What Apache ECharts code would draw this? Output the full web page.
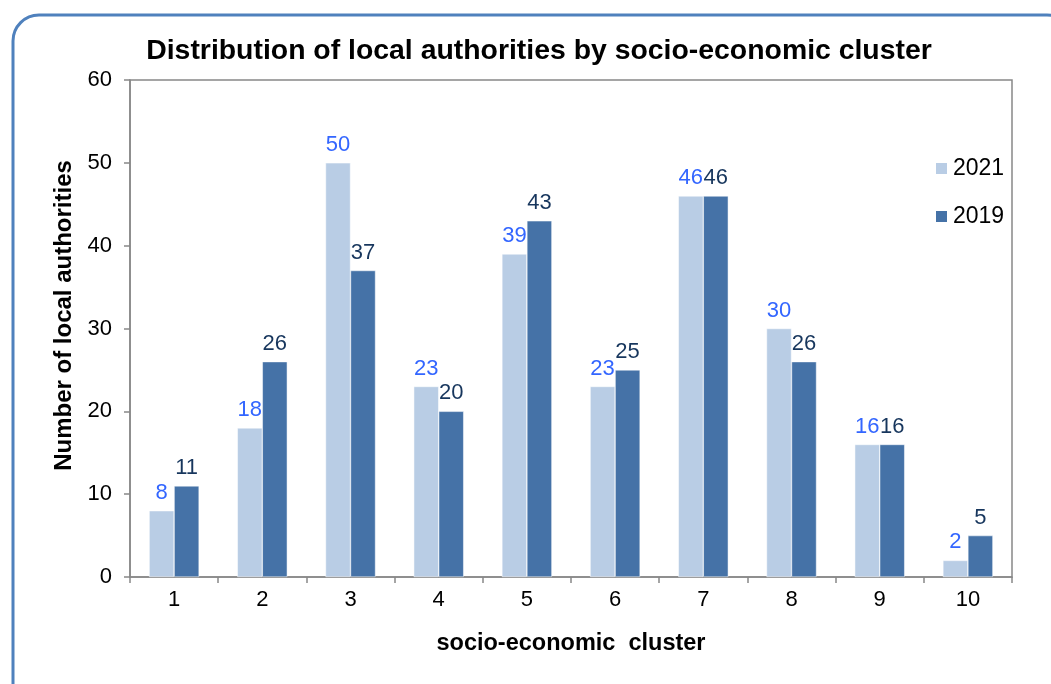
<!DOCTYPE html>
<html><head><meta charset="utf-8">
<script src="https://cdn.jsdelivr.net/npm/echarts@6/dist/echarts.min.js"></script>
<style>html,body{margin:0;padding:0;background:#fff}#c{width:1051px;height:684px}</style>
</head><body><div id="c"></div>
<script>
const categories = ['1','2','3','4','5','6','7','8','9','10'];
const values2021 = [8,18,50,23,39,23,46,30,16,2];
const values2019 = [11,26,37,20,43,25,46,26,16,5];
const yTicks = [0,10,20,30,40,50,60];

const chart = echarts.init(document.getElementById('c'));
const F = 'Arial, "Liberation Sans", sans-serif';
chart.setOption({
  animation:false,
  backgroundColor:'#fff',
  graphic:[{type:'rect',shape:{x:13,y:15,width:1060,height:700,r:26},style:{fill:'none',stroke:'#4F81BD',lineWidth:3},z:-10}],
  title:{text:'Distribution of local authorities by socio-economic cluster',left:534,textAlign:'center',top:32,
    textStyle:{fontFamily:F,fontSize:28.4,fontWeight:'bold',color:'#000'}},
  legend:{orient:'vertical',left:929,top:152,itemWidth:13,itemHeight:13,itemGap:25,
    textStyle:{fontFamily:F,fontSize:23,color:'#000'},data:['2021','2019'],icon:'rect'},
  grid:{left:130,right:39,top:80,bottom:107,show:true,borderColor:'#888',borderWidth:1.5,backgroundColor:'transparent'},
  xAxis:{type:'category',data:categories,name:'socio-economic  cluster',nameLocation:'middle',nameGap:55,
    nameTextStyle:{fontFamily:F,fontSize:23.5,fontWeight:'bold',color:'#000'},
    axisLine:{lineStyle:{color:'#888',width:1.5}},axisTick:{show:true,length:6,lineStyle:{color:'#888',width:1.5}},
    axisLabel:{fontFamily:F,fontSize:22,color:'#000',margin:12}},
  yAxis:{type:'value',min:yTicks[0],max:yTicks[yTicks.length-1],interval:10,name:'Number of local authorities',
    nameLocation:'middle',nameGap:54,nameRotate:90,
    nameTextStyle:{fontFamily:F,fontSize:24,fontWeight:'bold',color:'#000',padding:[0,0,0,26]},
    axisLine:{show:true,lineStyle:{color:'#888',width:1.5}},axisTick:{show:true,length:6,lineStyle:{color:'#888',width:1.5}},
    splitLine:{show:false},axisLabel:{fontFamily:F,fontSize:22,color:'#000',margin:18}},
  series:[
    {name:'2021',type:'bar',data:values2021,barWidth:25,barGap:'0%',
      itemStyle:{color:'#B9CDE5',borderColor:'#fff',borderWidth:0.5},
      label:{show:true,position:'top',distance:7,fontFamily:F,fontSize:22,color:'#3366FF'}},
    {name:'2019',type:'bar',data:values2019,barWidth:25,barGap:'0%',
      itemStyle:{color:'#4572A7',borderColor:'#fff',borderWidth:0.5},
      label:{show:true,position:'top',distance:7,fontFamily:F,fontSize:22,color:'#17365D'}}
  ]
});
</script></body></html>
